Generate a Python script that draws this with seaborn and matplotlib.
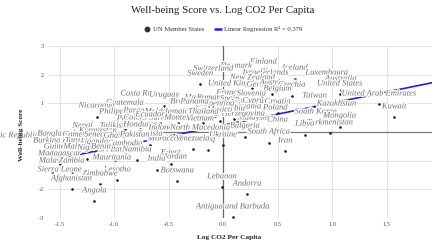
import matplotlib
matplotlib.use("Agg")
import matplotlib.pyplot as plt
import matplotlib.patheffects as pe
from matplotlib.lines import Line2D
import seaborn as sns
import pandas as pd

# ---------------- data ----------------
countries = [
    "Finland", "Denmark", "Iceland", "Norway", "Netherlands", "Israel", "Switzerland",
    "Sweden", "New Zealand", "United Kingdom", "Germany", "Austria", "Czechia", "Belgium",
    "Luxembourg", "Australia", "United States", "Taiwan", "United Arab Emirates",
    "Kazakhstan", "Kuwait", "South Korea", "Mongolia", "Turkmenistan", "Libya",
    "France", "Slovenia", "Malta", "Romania", "Spain", "Italy", "Portugal", "Cyprus",
    "Croatia", "Lithuania", "Poland", "Malaysia", "China", "Bulgaria", "South Africa",
    "Iran", "Ukraine", "Iraq", "Lebanon", "Andorra", "Antigua and Barbuda",
    "Bosnia and Herzegovina", "Serbia", "Chile", "Argentina", "Mexico",
    "Costa Rica", "Uruguay", "Brazil", "Panama", "Guatemala", "Nicaragua", "Philippines",
    "Paraguay", "Moldova", "Jamaica", "Thailand", "Peru", "Colombia", "El Salvador",
    "Montenegro", "Vietnam", "Ecuador", "Nepal", "Tajikistan", "Honduras", "Indonesia",
    "North Macedonia", "Kyrgyzstan", "Morocco", "Venezuela", "Tunisia", "Sri Lanka",
    "Cambodia", "Namibia", "Egypt", "Jordan", "India", "Botswana", "Mauritania",
    "Lesotho", "Zimbabwe", "Afghanistan", "Angola", "Sierra Leone", "Madagascar",
    "Malawi", "Zambia", "Democratic Republic of the Congo", "Bangladesh", "Cameroon",
    "Senegal", "Ghana", "Pakistan", "Burkina Faso", "Tanzania", "Uganda", "Guinea",
    "Mali", "Niger", "Benin",
]
log_co2 = [
    0.37, 0.12, 0.66, 0.48, 0.41, 0.27, -0.09,
    -0.21, 0.27, 0.12, 0.36, 0.45, 0.63, 0.50,
    0.95, 1.08, 1.07, 0.84, 1.43,
    1.04, 1.57, 0.85, 1.07, 0.98, 0.75,
    0.05, 0.26, -0.26, -0.10, 0.06, 0.14, -0.07, 0.29,
    0.50, 0.20, 0.48, 0.28, 0.50, 0.20, 0.42,
    0.57, 0.00, -0.14, -0.01, 0.22, 0.09,
    0.00, 0.10, -0.17, -0.05, -0.03,
    -0.77, -0.54, -0.39, -0.26, -0.90, -1.16, -0.96,
    -0.76, -0.58, -0.41, -0.18, -0.90, -0.76, -0.58,
    -0.35, -0.21, -0.67, -1.29, -0.98, -0.76, -0.53,
    -0.21, -1.15, -0.55, -0.28, -0.67, -0.99,
    -0.90, -0.79, -0.48, -0.44, -0.61, -0.42, -1.02,
    -0.97, -1.13, -1.39, -1.18, -1.50, -1.50,
    -1.57, -1.39, -1.52, -1.52, -1.31,
    -1.15, -0.99, -0.81, -1.53, -1.31, -1.18, -1.53,
    -1.39, -1.25, -1.12,
]
wellbeing = [
    2.07, 1.93, 1.86, 1.72, 1.69, 1.69, 1.83,
    1.66, 1.52, 1.31, 1.27, 1.34, 1.27, 1.13,
    1.69, 1.48, 1.31, 0.89, 0.96,
    0.61, 0.51, 0.33, 0.19, -0.05, -0.09,
    0.99, 0.96, 0.82, 0.82, 0.78, 0.64, 0.57, 0.71,
    0.68, 0.51, 0.47, 0.12, 0.05, -0.16, -0.37,
    -0.68, -0.47, -0.64, -1.93, -2.18, -2.98,
    0.26, 0.44, 0.57, 0.61, 0.40,
    0.96, 0.92, 0.68, 0.68, 0.64, 0.54, 0.33,
    0.37, 0.33, 0.33, 0.33, 0.09, 0.12, 0.12,
    0.12, 0.09, 0.23, -0.16, -0.16, -0.12, -0.23,
    -0.23, -0.33, -0.61, -0.61, -0.44, -0.99,
    -0.78, -0.99, -1.10, -1.24, -1.31, -1.72, -1.27,
    -1.69, -1.83, -2.00, -2.42, -1.69, -1.13,
    -1.38, -1.38, -0.50, -0.44, -0.47,
    -0.47, -0.51, -0.47, -0.68, -0.68, -0.72, -0.89,
    -0.89, -0.93, -0.89,
]
label_nudge_px = {"Democratic Republic of the Congo": -32}

reg_slope = 0.773
reg_intercept = 0.236
r_squared = 0.379

x_ticks = [-1.5, -1.0, -0.5, 0.0, 0.5, 1.0, 1.5]
y_ticks = [-3, -2, -1, 0, 1, 2, 3]

title = "Well-being Score vs. Log CO2 Per Capita"
x_title = "Log CO2 Per Capita"
y_title = "Well-being Score"
series_name = "UN Member States"

# ---------------- style ----------------
sns.set_theme(style="white")
plt.rcParams["font.family"] = ["Liberation Serif", "DejaVu Serif"]

df = pd.DataFrame({"country": countries, "x": log_co2, "y": wellbeing})

fig = plt.figure(figsize=(4.4, 2.52), dpi=100)
ax = fig.add_axes([48 / 440, 1 - 218 / 252, 384 / 440, 172 / 252])

sns.scatterplot(data=df, x="x", y="y", ax=ax, color="#1a1a1a", s=3.5,
                linewidth=0, zorder=3, legend=False)
ax.axline((0, reg_intercept), slope=reg_slope, color="#2020d8", linewidth=1.2, zorder=2)

ax.set_xlim(-1.606, 1.917)
ax.set_ylim(-3, 3)
ax.set_xticks(x_ticks)
ax.set_yticks(y_ticks)
ax.set_xticklabels([f"{v:.1f}" for v in x_ticks])
ax.set_yticklabels([str(v) for v in y_ticks])
ax.tick_params(axis="both", length=0, labelsize=4.6, colors="#555555", pad=3)
for s in ax.spines.values():
    s.set_visible(False)
ax.grid(True, color="#e2e2e2", linewidth=0.75)
ax.set_axisbelow(True)
ax.axhline(0, color="#7a7a7a", linewidth=0.9, zorder=1)
ax.axvline(0, color="#666666", linewidth=0.9, zorder=1)
ax.set_xlabel("")
ax.set_ylabel("")

aura = [pe.withStroke(linewidth=1.8, foreground="white")]
for c, xv, yv in zip(countries, log_co2, wellbeing):
    dx = label_nudge_px.get(c, 0) * 0.72
    ax.annotate(c, (xv, yv), xytext=(dx, 7.9), textcoords="offset points",
                ha="center", va="center", fontsize=6.1, style="italic",
                color="#707070", path_effects=aura, zorder=4, annotation_clip=False)

fig.text(0.506, 0.958, title, ha="center", va="center", fontsize=7.8, color="#222222")
fig.text(0.52, 0.056, x_title, ha="center", va="center", fontsize=5.2,
         fontweight="bold", color="#222222")
fig.text(0.048, 0.464, y_title, ha="center", va="center", rotation=90, fontsize=5.2,
         fontweight="bold", color="#222222")

handles = [
    Line2D([0], [0], marker="o", linestyle="none", color="#333333", markersize=3.2),
    Line2D([0], [0], color="#2020d8", linewidth=1.8),
]
fig.legend(handles, [series_name, f"Linear Regression R² = {r_squared}"],
           loc="center", bbox_to_anchor=(0.508, 0.885), ncol=2, frameon=False,
           fontsize=4.8, handlelength=0.8, handletextpad=0.5, columnspacing=1.6,
           labelcolor="#333333")

fig.savefig("out.png", dpi=100)
